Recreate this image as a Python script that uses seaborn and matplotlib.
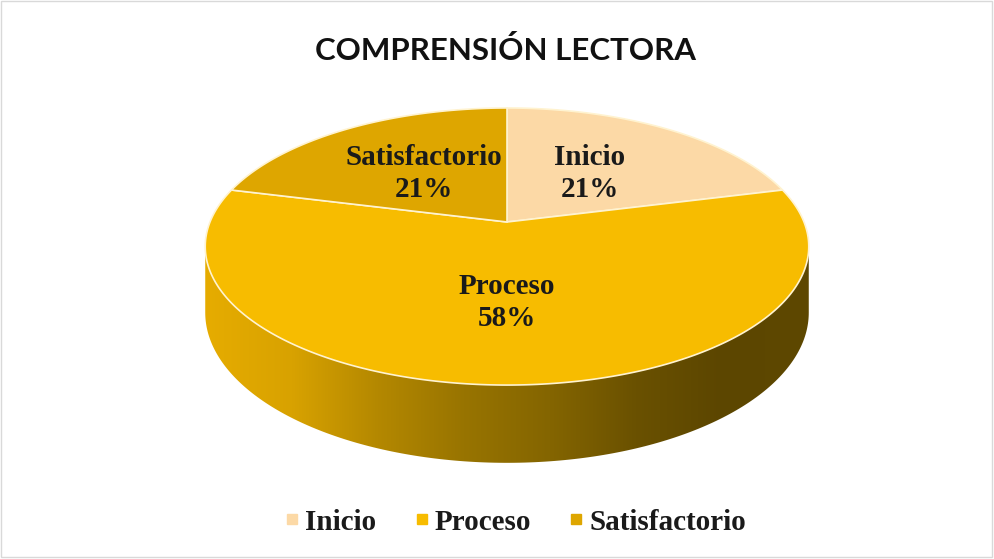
import numpy as np
import matplotlib
matplotlib.use("Agg")
import matplotlib.pyplot as plt
import seaborn as sns
from matplotlib.transforms import Transform
from matplotlib.path import Path
from matplotlib.patches import PathPatch, Rectangle
from matplotlib.colors import LinearSegmentedColormap
from matplotlib.lines import Line2D

# ---- data ----
categories = ["Inicio", "Proceso", "Satisfactorio"]
percentages = [21, 58, 21]
pct_labels = ["21%", "58%", "21%"]
colors = ["#FCD9A6", "#F7BC00", "#DEA600"]
title = "COMPRENSIÓN LECTORA"

sns.set_theme(style="white")
plt.rcParams["font.serif"] = ["Liberation Serif", "DejaVu Serif"]
SERIF = ["Liberation Serif", "DejaVu Serif"]

W, H_PX = 995, 559
fig = plt.figure(figsize=(W / 100, H_PX / 100), dpi=100)
ax = fig.add_axes([0, 0, 1, 1])

# perspective parameters (pixel space)
CX, CY = 507.0, 222.0
A, B, K, THICK = 297.0, 134.2, 0.177, 64.0


def project(u, v, dz=0.0):
    w = 1 + K * v
    x = CX + A * u / w
    y = CY + (-B * v + THICK * dz) / w
    return x, y


class PieProjection(Transform):
    input_dims = output_dims = 2
    is_separable = False
    has_inverse = False

    def __init__(self, dz=0.0):
        super().__init__()
        self._dz = dz

    def transform_non_affine(self, values):
        values = np.asarray(values, float)
        x, y = project(values[:, 0], values[:, 1], self._dz)
        return np.column_stack([x, y])

    def transform_path_non_affine(self, path):
        pts = []
        for bez, code in path.iter_bezier():
            if code == Path.MOVETO:
                pts.append(bez.control_points[0])
            else:
                n = 2 if code in (Path.LINETO, Path.CLOSEPOLY) else 60
                t = np.linspace(0, 1, n)[1:]
                pts.extend(bez(t))
        pts = np.asarray(pts)
        return Path(self.transform_non_affine(pts), closed=True)


# ---- side (3D extrusion) with horizontal gradient ----
a0 = np.degrees(np.arcsin(K))
ang = np.radians(np.linspace(180 + a0, 360 - a0, 200))
tx, ty = project(np.cos(ang), np.sin(ang), 0.0)
bx, by = project(np.cos(ang[::-1]), np.sin(ang[::-1]), 1.0)
side_verts = np.column_stack([np.r_[tx, bx], np.r_[ty, by]])
side_path = Path(np.vstack([side_verts, side_verts[:1]]), closed=True)
side_patch = PathPatch(side_path, facecolor="none", edgecolor="none")
ax.add_patch(side_patch)
side_cmap = LinearSegmentedColormap.from_list(
    "side", ["#E6AC00", "#D8A200", "#B48800", "#987400", "#846500",
             "#6A5100", "#5C4600", "#5E4800"])
grad = np.linspace(0, 1, 256)[None, :]
im = ax.imshow(grad, cmap=side_cmap, aspect="auto",
               extent=[tx.min(), tx.max(), by.max() + 2, ty.min() - 2],
               zorder=1)
im.set_clip_path(side_patch)

# ---- top face via ax.pie ----
wedges, _ = ax.pie(percentages, colors=colors, startangle=90, counterclock=False,
                   radius=1.0, center=(0, 0),
                   wedgeprops=dict(edgecolor="#FFF3D0", linewidth=1.2))
proj_top = PieProjection(0.0)
for wdg in wedges:
    wdg.set_transform(proj_top + ax.transData)
    wdg.set_zorder(2)

# labels
for wdg, cat, pl in zip(wedges, categories, pct_labels):
    mid = np.radians((wdg.theta1 + wdg.theta2) / 2)
    r = 0.485 if abs(np.sin(mid) + 1) > 1e-6 else 0.54
    lx, ly = project(r * np.cos(mid), r * np.sin(mid), 0.0)
    ax.text(lx, ly, f"{cat}\n{pl}", ha="center", va="center",
            fontsize=21, fontweight="bold", family=SERIF,
            color="#1A1A1A", linespacing=1.25, zorder=5)

ax.set_xlim(0, W)
ax.set_ylim(H_PX, 0)
ax.set_aspect("auto")
ax.axis("off")

# title
fig.text(0.508, 1 - 51 / H_PX, title, ha="center", va="center",
         fontsize=22.5, fontweight="bold", family="Lato", color="#111111")

# legend
handles = [Line2D([], [], marker="s", linestyle="none", markersize=7,
                  markerfacecolor=c, markeredgecolor=c) for c in colors]
leg = fig.legend(handles, categories, loc="center", ncol=3,
                 bbox_to_anchor=(0.516, 1 - 522 / H_PX), frameon=False,
                 prop=dict(family=SERIF, weight="bold", size=21),
                 handletextpad=0.05, columnspacing=1.15, handlelength=0.8)
for t in leg.get_texts():
    t.set_color("#1A1A1A")

# chart border
fig.patches.append(Rectangle((0.001, 0.004), 0.996, 0.994, transform=fig.transFigure,
                             fill=False, edgecolor="#D9D9D9", linewidth=1.0))

fig.savefig("out.png", dpi=100, facecolor="white")
